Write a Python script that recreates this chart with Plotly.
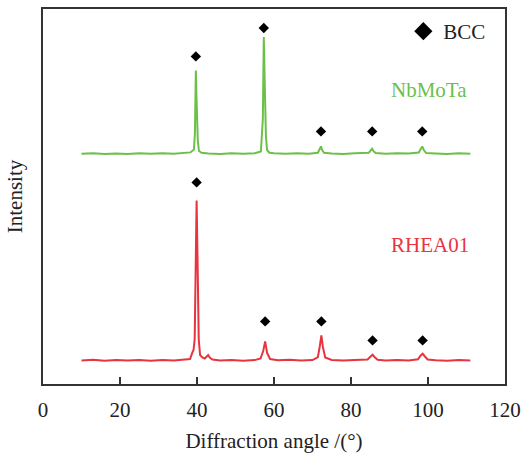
import plotly.graph_objects as go

# ---- data (arbitrary intensity units) ----
nbmota_x = [10, 13, 16, 19, 22, 25, 28, 31, 34, 36.5, 38.3, 38.9, 39.2, 39.45, 39.7, 39.85, 40.0, 40.2, 40.5, 41.2,
            43, 46, 49, 52, 55, 56.6, 57.1, 57.35, 57.6, 57.75, 57.9, 58.2, 58.8, 60, 63, 66, 69, 71.4, 71.9, 72.2,
            72.5, 73.0, 75, 78, 81, 84.6, 85.2, 85.5, 85.8, 86.4, 89, 92, 95, 97.6, 98.1, 98.5, 98.9, 99.5, 102,
            105, 108, 111]
nbmota_y = [230.3, 230.8, 230.1, 230.6, 230.0, 230.7, 230.2, 230.8, 230.3, 230.9, 231.6, 233.5, 234.5, 250, 313.6, 290,
            267, 244, 233, 231.2, 230.6, 230.1, 230.7, 230.2, 230.8, 232.5, 265, 347, 300, 277, 248, 234, 231.3,
            230.7, 230.2, 230.8, 230.3, 231.2, 234.5, 237.6, 234, 231.2, 230.6, 230.1, 230.7, 231.2, 234, 235.3,
            233, 230.9, 230.3, 230.8, 230.4, 231.5, 235, 237.6, 234, 231.0, 230.6, 230.1, 230.7, 230.3]

rhea_x = [10, 13, 16, 19, 22, 25, 28, 31, 34, 36.5, 38.2, 38.8, 39.1, 39.4, 39.6, 39.9, 40.2, 40.45, 40.8, 41.4,
          42.0, 42.6, 42.9, 43.3, 44, 46, 49, 52, 55, 56.5, 57.2, 57.7, 58.2, 59, 61, 64, 67, 70, 71.4, 71.9,
          72.3, 72.7, 73.3, 75, 78, 81, 84.3, 85.1, 85.6, 86.1, 86.9, 89, 92, 95, 97.4, 98.1, 98.6, 99.1, 99.9,
          102, 105, 108, 111]
rhea_y = [23.6, 24.3, 23.2, 23.9, 23.4, 24.1, 23.3, 23.9, 23.5, 24.0, 25.0, 31.5, 34, 45, 120, 183.6, 110, 45, 29,
          26.5, 25.5, 28.5, 29, 26.5, 24.5, 23.6, 24.1, 23.3, 23.9, 25.5, 33, 42.6, 31, 25, 23.8, 24.3, 23.5,
          24.0, 27, 38, 48.6, 37, 26.5, 24.0, 23.4, 23.9, 24.5, 27.5, 29.3, 27, 24.2, 23.6, 24.1, 23.4, 24.8,
          28.5, 30.3, 28, 24.5, 23.8, 23.3, 23.9, 23.6]

bcc_nbmota_x = [39.7, 57.35, 72.2, 85.5, 98.5]
bcc_nbmota_y = [327.6, 356, 252.6, 252.6, 252.6]
bcc_rhea_x = [39.9, 57.7, 72.3, 85.6, 98.6]
bcc_rhea_y = [201.6, 62.6, 62.6, 43.6, 43.6]

x_ticks = [0, 20, 40, 60, 80, 100, 120]

GREEN = "#6cc04a"
RED = "#e8343e"
FONT = "Liberation Serif"

fig = go.Figure()
fig.add_trace(go.Scatter(x=nbmota_x, y=nbmota_y, mode="lines", line=dict(color=GREEN, width=2),
                         showlegend=False, hoverinfo="skip"))
fig.add_trace(go.Scatter(x=rhea_x, y=rhea_y, mode="lines", line=dict(color=RED, width=2),
                         showlegend=False, hoverinfo="skip"))
fig.add_trace(go.Scatter(x=bcc_nbmota_x, y=bcc_nbmota_y, mode="markers",
                         marker=dict(symbol="diamond", size=8, color="black"), showlegend=False))
fig.add_trace(go.Scatter(x=bcc_rhea_x, y=bcc_rhea_y, mode="markers",
                         marker=dict(symbol="diamond", size=8, color="black"), showlegend=False))
fig.add_trace(go.Scatter(x=[None], y=[None], mode="markers", name="BCC",
                         marker=dict(symbol="diamond", size=14, color="black")))

fig.add_annotation(x=89.8, y=294, xref="x", yref="y", text="NbMoTa", showarrow=False,
                   xanchor="left", yanchor="middle", font=dict(family=FONT, size=21, color=GREEN))
fig.add_annotation(x=89.8, y=139, xref="x", yref="y", text="RHEA01", showarrow=False,
                   xanchor="left", yanchor="middle", font=dict(family=FONT, size=21, color=RED))

fig.update_layout(
    width=527, height=453,
    margin=dict(l=43, r=22, t=9, b=69),
    paper_bgcolor="white", plot_bgcolor="white",
    font=dict(family=FONT, size=20, color="#222"),
    legend=dict(x=0.78, y=0.94, xanchor="left", yanchor="middle", bgcolor="rgba(0,0,0,0)",
                font=dict(family=FONT, size=21, color="#222")),
    xaxis=dict(range=[0, 120], tickvals=x_ticks, ticks="inside", ticklen=7, tickwidth=1.5,
               tickcolor="#333", showline=True, linecolor="#333", linewidth=1.5, mirror=True,
               showgrid=False, zeroline=False, ticklabelstandoff=6, automargin=False,
               tickfont=dict(family=FONT, size=21),
               title=dict(text="Diffraction angle /(°)", standoff=12, font=dict(family=FONT, size=21))),
    yaxis=dict(range=[0, 375], showticklabels=False, ticks="", showline=True, linecolor="#333",
               linewidth=1.5, mirror=True, showgrid=False, zeroline=False, automargin=False,
               title=dict(text="Intensity", standoff=13, font=dict(family=FONT, size=21))),
)

fig.write_html("out.html", config={"displayModeBar": False},
               post_script="document.body.style.margin='0';document.body.style.overflow='hidden';")
